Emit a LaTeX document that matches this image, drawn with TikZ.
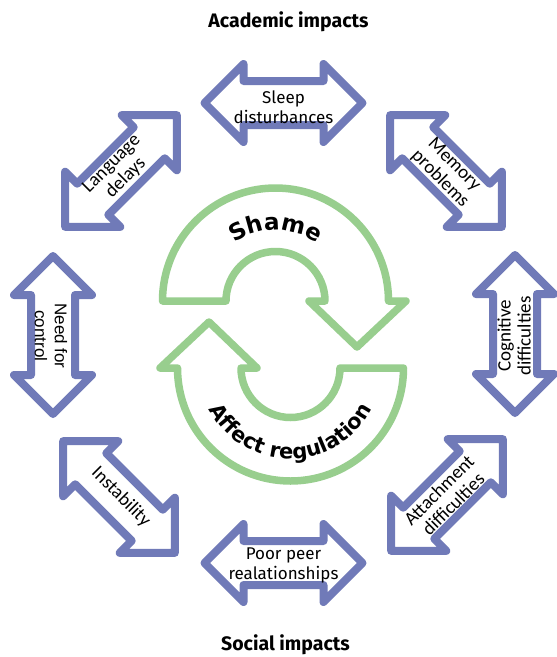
\documentclass[tikz,border=0pt]{standalone}
\usepackage{fontspec}
\setmainfont{Fira Sans}
\newfontfamily\calfont{Carlito}
\newfontfamily\arfont{Liberation Sans}
\newfontfamily\heavyfont{DejaVu Sans}
\usetikzlibrary{decorations.text}
\definecolor{ablue}{RGB}{112,122,184}
\definecolor{agreen}{RGB}{152,206,142}
\tikzset{
 bluearrow/.style={draw=ablue, line width=8pt, line join=round, fill=white},
 greenarrow/.style={draw=agreen, line width=7.5pt, line join=round, fill=white},
 dblarrow/.pic={\path[bluearrow] (-79,0) -- (-40,39) -- (-40,22) -- (40,22) -- (40,39) -- (79,0) -- (40,-39) -- (40,-22) -- (-40,-22) -- (-40,-39) -- cycle;},
 firalabel/.style={font=\fontsize{17}{20}\selectfont, align=center, inner sep=0pt},
 callabel/.style={font=\calfont\fontsize{19}{20}\selectfont, align=center, inner sep=0pt},
 arlabel/.style={font=\arfont\fontsize{17}{20}\selectfont, align=center, inner sep=0pt},
 titlelabel/.style={font=\bfseries\fontsize{19.5}{22}\selectfont, inner sep=0pt},
}
\begin{document}
\begin{tikzpicture}[x=1pt,y=-1pt]
\fill[white] (0,0) rectangle (557,657);
\useasboundingbox (0,0) rectangle (557,657);
% blue double arrows
\pic at (283.5,103) {dblarrow};
\pic at (283.5,563) {dblarrow};
\pic[rotate=90] at (53,335) {dblarrow};
\pic[rotate=90] at (515,334) {dblarrow};
\pic[rotate=45] at (121,171) {dblarrow};
\pic[rotate=-45] at (446,171) {dblarrow};
\pic[rotate=-45] at (119,497) {dblarrow};
\pic[rotate=45] at (447,495) {dblarrow};
% labels
\node[firalabel] (sleep) at (283.5,107) {Sleep\\disturbances};
\node[firalabel] (peer) at (283.5,565) {Poor peer\\realationships};
\node[arlabel, rotate=-90] (control) at (51,336) {Need for\\control};
\node[callabel, rotate=90] (cogn) at (514,336) {Cognitive\\difficulties};
\node[callabel, rotate=45] (lang) at (119,171) {Language\\delays};
\node[callabel, rotate=-45] (mem) at (447,172) {Memory\\problems};
\node[callabel, rotate=-45] (instab) at (121,497) {Instability};
\node[callabel, rotate=45] (attach) at (446,497) {Attachment\\difficulties};
\node[titlelabel] (acad) at (288.5,22) {Academic impacts};
\node[titlelabel] (social) at (285.5,645) {Social impacts};
% green cycle arrows
\draw[greenarrow] (162.5,301) arc[start angle=180, end angle=360, radius=113] -- (406,301) -- (357,347) -- (309,301) -- (325,301) arc[start angle=0, end angle=-180, radius=49.5] -- cycle;
\draw[greenarrow] (403.5,368) arc[start angle=0, end angle=180, radius=113] -- (160,368) -- (209,322) -- (257,368) -- (241,368) arc[start angle=180, end angle=0, radius=49.5] -- cycle;
\path[decorate, decoration={text along path, text align=center, text={|\heavyfont\bfseries\fontsize{23}{23}\selectfont|Shame}}] (275.5,301) ++(180:71) arc[start angle=180, end angle=360, radius=71];
\path[decorate, decoration={text along path, text align=center, text={|\heavyfont\bfseries\fontsize{21}{21}\selectfont|Affect regulation}}] (290.5,368) ++(180:91) arc[start angle=180, end angle=0, radius=91];
\end{tikzpicture}
\end{document}
